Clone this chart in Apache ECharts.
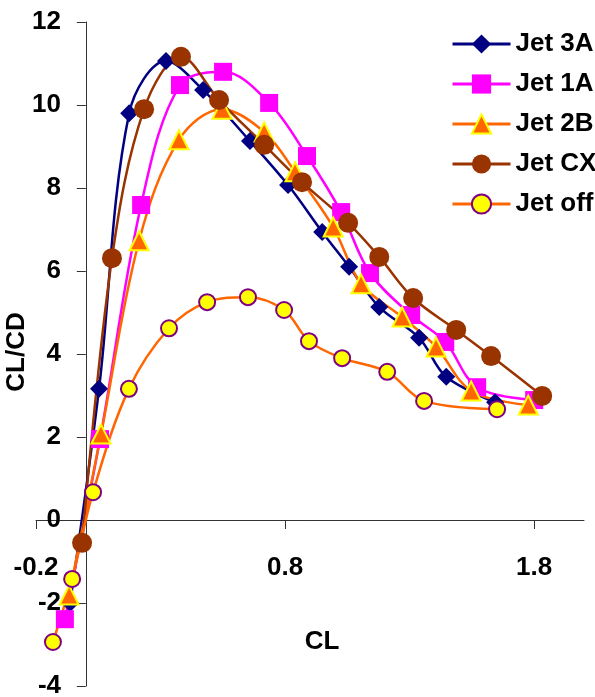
<!DOCTYPE html>
<html>
<head>
<meta charset="utf-8">
<script src="https://cdn.jsdelivr.net/npm/echarts@6/dist/echarts.min.js"></script>
<style>
html,body{margin:0;padding:0;background:#fff;}
#chart{width:595px;height:697px;}
</style>
</head>
<body>
<div id="chart"></div>
<script>
// ---- data ----
var seriesNames = ['Jet 3A', 'Jet 1A', 'Jet 2B', 'Jet CX', 'Jet off'];

var jet3A_CL = [-0.063, 0.053, 0.174, 0.322, 0.471, 0.659, 0.812, 0.949, 1.057, 1.178, 1.338, 1.447, 1.643];
var jet3A_LD = [-2.00, 3.16, 9.80, 11.06, 10.36, 9.13, 8.07, 6.94, 6.10, 5.13, 4.39, 3.45, 2.84];

var jet1A_CL = [-0.084, 0.057, 0.222, 0.378, 0.551, 0.736, 0.888, 1.025, 1.141, 1.306, 1.443, 1.571, 1.800];
var jet1A_LD = [-2.39, 1.95, 7.59, 10.48, 10.80, 10.05, 8.77, 7.42, 5.95, 4.94, 4.29, 3.20, 2.89];

var jet2B_CL = [-0.067, 0.061, 0.214, 0.374, 0.547, 0.716, 0.840, 0.993, 1.105, 1.270, 1.406, 1.547, 1.776];
var jet2B_LD = [-1.81, 2.07, 6.73, 9.16, 9.90, 9.35, 8.39, 7.06, 5.69, 4.89, 4.17, 3.11, 2.77];

var jetCX_CL = [-0.015, 0.105, 0.234, 0.382, 0.535, 0.716, 0.868, 1.053, 1.178, 1.314, 1.487, 1.627, 1.832];
var jetCX_LD = [-0.55, 6.31, 9.90, 11.16, 10.12, 9.04, 8.14, 7.16, 6.34, 5.35, 4.58, 3.95, 2.99];

var jetOff_CL = [-0.132, -0.055, 0.029, 0.173, 0.334, 0.487, 0.651, 0.796, 0.896, 1.029, 1.210, 1.358, 1.651];
var jetOff_LD = [-2.94, -1.42, 0.67, 3.16, 4.62, 5.25, 5.37, 5.06, 4.31, 3.90, 3.57, 2.87, 2.67];

var xTicks = [-0.2, 0.8, 1.8];
var yTicks = [-4, -2, 0, 2, 4, 6, 8, 10, 12];

function pairs(xs, ys) {
  var out = [];
  for (var i = 0; i < xs.length; i++) out.push([xs[i], ys[i]]);
  return out;
}

var FONT = 'Liberation Sans, Arial, sans-serif';
var FS = 26;
var chart = echarts.init(document.getElementById('chart'), null, {renderer: 'canvas'});

function lineSeries(name, data, lineColor, symbol, size, fill, border, borderW) {
  return {
    name: name,
    type: 'line',
    data: data,
    smooth: 0.35,
    clip: false,
    symbol: symbol,
    symbolSize: size,
    showAllSymbol: true,
    lineStyle: {color: lineColor, width: 2.5},
    itemStyle: {color: fill, borderColor: border, borderWidth: borderW},
    emphasis: {disabled: true},
    animation: false
  };
}

var option = {
  animation: false,
  backgroundColor: '#ffffff',
  grid: {left: 36, right: 11, top: 22, bottom: 11, containLabel: false, outerBoundsMode: 'none'},
  legend: {
    orient: 'vertical',
    left: 451,
    top: 31,
    padding: 0,
    itemWidth: 58,
    itemHeight: 24,
    itemGap: 14,
    lineStyle: {width: 3},
    textStyle: {fontFamily: FONT, fontWeight: 'bold', fontSize: FS, color: '#000', lineHeight: 26},
    data: seriesNames
  },
  xAxis: {
    type: 'value',
    min: -0.2,
    max: 2.0,
    axisLine: {show: true, onZero: true, lineStyle: {color: '#333', width: 1}},
    axisTick: {show: true, inside: false, length: 9, customValues: xTicks, lineStyle: {color: '#333'}},
    axisLabel: {
      show: true, customValues: xTicks, margin: -131,
      fontFamily: FONT, fontWeight: 'bold', fontSize: FS, color: '#000',
      formatter: function (v) { return (Math.round(v * 10) / 10).toFixed(1); }
    },
    splitLine: {show: false}
  },
  yAxis: {
    type: 'value',
    min: -4,
    max: 12,
    interval: 2,
    axisLine: {show: true, onZero: true, lineStyle: {color: '#333', width: 1}},
    axisTick: {show: true, inside: false, length: 9, lineStyle: {color: '#333'}},
    axisLabel: {
      show: true, margin: -25, showMinLabel: true, showMaxLabel: true,
      fontFamily: FONT, fontWeight: 'bold', fontSize: FS, color: '#000'
    },
    splitLine: {show: false}
  },
  graphic: [
    {type: 'text', x: 17, y: 352, rotation: Math.PI / 2,
     style: {text: 'CL/CD', fontFamily: FONT, fontWeight: 'bold', fontSize: FS, fill: '#000', align: 'center', verticalAlign: 'middle'}},
    {type: 'text', x: 322, y: 642,
     style: {text: 'CL', fontFamily: FONT, fontWeight: 'bold', fontSize: FS, fill: '#000', align: 'center', verticalAlign: 'middle'}}
  ],
  series: [
    lineSeries('Jet 3A', pairs(jet3A_CL, jet3A_LD), '#000080', 'diamond', 18, '#000080', '#000080', 0),
    lineSeries('Jet 1A', pairs(jet1A_CL, jet1A_LD), '#FF00FF', 'rect', 18, '#FF00FF', '#FF00FF', 0),
    lineSeries('Jet 2B', pairs(jet2B_CL, jet2B_LD), '#FF6600', 'triangle', 19, '#FF6600', '#FFFF00', 2),
    lineSeries('Jet CX', pairs(jetCX_CL, jetCX_LD), '#993300', 'circle', 20, '#993300', '#993300', 0),
    lineSeries('Jet off', pairs(jetOff_CL, jetOff_LD), '#FF6600', 'circle', 16, '#FFFF00', '#800080', 2)
  ]
};
chart.setOption(option);
</script>
</body>
</html>
